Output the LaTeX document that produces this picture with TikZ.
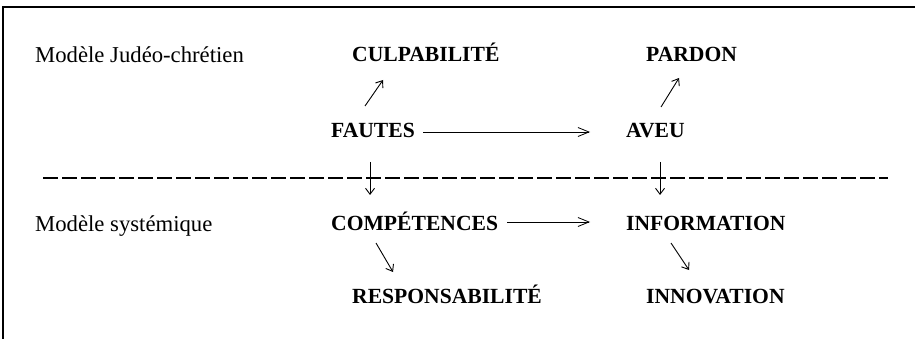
\documentclass[tikz,border=0pt]{standalone}
\usepackage{fontspec}
\setmainfont{Liberation Serif}
\usetikzlibrary{arrows.meta,calc}
\tikzset{
  term/.style={inner sep=0pt,anchor=base west,font=\fontsize{21.6}{21.6}\selectfont\bfseries},
  model/.style={inner sep=0pt,anchor=base west,font=\fontsize{22.7}{22.7}\selectfont},
  link/.style={line width=0.9pt,-{Straight Barb[length=6pt,width=9pt,line width=0.9pt]}},
  longlink/.style={line width=0.8pt,-{Straight Barb[length=11pt,width=9pt,line width=0.8pt]}},
  sep/.style={line width=1.1pt,dash pattern=on 15pt off 4pt},
  frame/.style={line width=1.3pt}
}
\begin{document}
\begin{tikzpicture}[x=1pt,y=-1pt]
\useasboundingbox (0,0) rectangle (915,339);
\fill[white] (0,0) rectangle (915,339);
\coordinate (fb) at (3,339);
\coordinate (fc) at (3,7);
\coordinate (fr) at (915,7);
\draw[frame] (fb) -- (fc) -- (fr);

\node[model] (mjc) at (35,63) {Modèle Judéo-chrétien};
\node[model] (msy) at (35,231) {Modèle systémique};

\node[term] (culp) at (352,62) {CULPABILITÉ};
\node[term] (pard) at (646,62) {PARDON};
\node[term] (faut) at (331,138) {FAUTES};
\node[term] (aveu) at (626,138) {AVEU};
\node[term] (comp) at (331,230) {COMPÉTENCES};
\node[term] (info) at (626,230) {INFORMATION};
\node[term] (resp) at (352,303) {RESPONSABILITÉ};
\node[term] (inno) at (646,303) {INNOVATION};

\coordinate (dl) at (43,178);
\coordinate (dr) at (888,178);
\draw[sep] (dl) -- (dr);

\draw[link] ($(faut.base west)+(34,-32)$) -- ($(culp.base west)+(31,18)$);
\draw[link] ($(aveu.base west)+(35,-31)$) -- ($(pard.base west)+(33,16)$);
\draw[longlink] ($(faut.base east)+(8,-6)$) -- ($(aveu.base west)+(-36,-6)$);
\draw[longlink] ($(comp.base east)+(9,-8)$) -- ($(info.base west)+(-36,-8)$);
\draw[link] ($(faut.base west)+(39,24)$) -- ($(comp.base west)+(39,-35)$);
\draw[link] ($(aveu.base west)+(34,24)$) -- ($(info.base west)+(34,-35)$);
\draw[link] ($(comp.base west)+(45,13)$) -- ($(resp.base west)+(41,-31)$);
\draw[link] ($(info.base west)+(45,13)$) -- ($(inno.base west)+(43,-33)$);
\end{tikzpicture}
\end{document}
